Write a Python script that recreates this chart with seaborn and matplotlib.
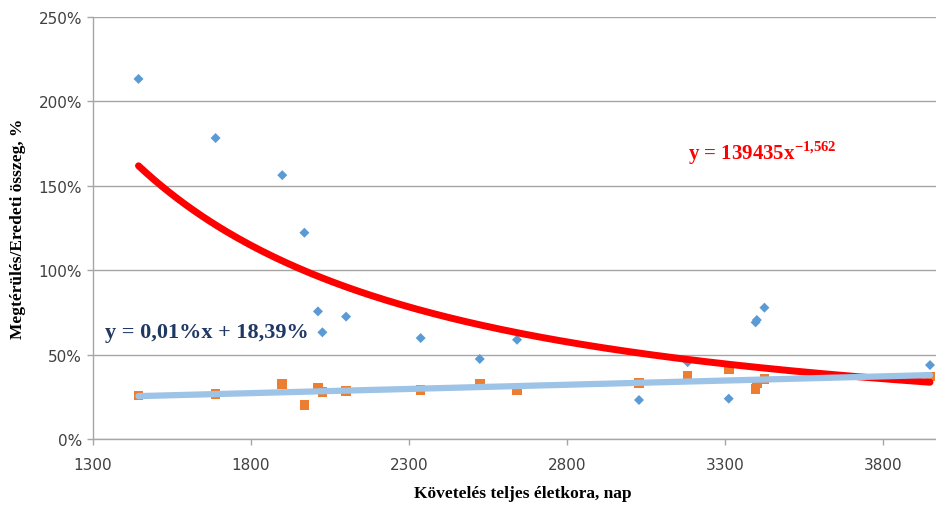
import numpy as np
import pandas as pd
import matplotlib
matplotlib.use("Agg")
import matplotlib.pyplot as plt
from matplotlib.ticker import PercentFormatter, MultipleLocator, FixedLocator
import seaborn as sns

# Claim age (days) and recovery ratios
days = [1444, 1688, 1899, 1969, 2012, 2026, 2101, 2337, 2524, 2642,
        3028, 3182, 3312, 3397, 3401, 3425, 3949]
recovery_a = [213.3, 178.3, 156.3, 122.2, 75.6, 63.2, 72.5, 59.8, 47.4, 58.8,
              23.1, 45.5, 23.9, 69.1, 70.5, 77.8, 43.8]
recovery_b = [25.7, 26.5, 32.6, 20.3, 30.6, 27.7, 28.6, 29.2, 32.6, 29.0,
              33.2, 37.5, 41.5, 29.6, 33.0, 35.5, 37.1]
x_ticks = [1300, 1800, 2300, 2800, 3300, 3800]

# Power trend coefficients shown on the chart
power_coef = 139435
power_exp = -1.562

power_label = r"y = 139435x$^{\mathbf{-1{,}562}}$"
linear_label = "y = 0,01%x + 18,39%"
x_title = "Követelés teljes életkora, nap"
y_title = "Megtérülés/Eredeti összeg, %"

df = pd.DataFrame({
    "days": days,
    "a": np.array(recovery_a) / 100,
    "b": np.array(recovery_b) / 100,
})

sns.set_theme(style="white")
plt.rcParams["font.family"] = ["DejaVu Sans"]
plt.rcParams["mathtext.fontset"] = "custom"
plt.rcParams["mathtext.rm"] = "Liberation Serif:bold"
plt.rcParams["mathtext.bf"] = "Liberation Serif:bold"

fig = plt.figure(figsize=(9.36, 5.06), dpi=100)
ax = fig.add_axes([93 / 936, 1 - 440 / 506, 1 - 93 / 936, (440 - 18) / 506])

grid_col = "#a6a6a6"
ax.yaxis.grid(True, color=grid_col, lw=1.0)
ax.set_axisbelow(True)

# scatter points
sns.scatterplot(data=df, x="days", y="a", marker="D", s=26, color="#5b9bd5",
                edgecolor="none", ax=ax, zorder=3)
sns.scatterplot(data=df, x="days", y="b", marker="s", s=48, color="#ed7d31",
                edgecolor="none", ax=ax, zorder=3)

# power trend line
xs = np.linspace(df["days"].min(), df["days"].max(), 200)
trend = pd.DataFrame({"x": xs, "y": power_coef * xs ** power_exp})
sns.lineplot(data=trend, x="x", y="y", color="#ff0000", lw=5, ax=ax, zorder=4)

# linear trend line fitted on second series
sns.regplot(data=df, x="days", y="b", scatter=False, ci=None, truncate=True,
            line_kws={"color": "#9dc3e6", "lw": 4.5, "zorder": 5}, ax=ax)

ax.text(3183, 1.70, power_label, color="#ff0000", fontsize=15,
        family="Liberation Serif", fontweight="bold", ha="left", va="center")
ax.text(1338, 0.634, linear_label, color="#1f3864", fontsize=16,
        family="Liberation Serif", fontweight="bold", ha="left", va="center")

ax.set_xlim(1300, 3968)
ax.set_ylim(0, 2.5)
ax.xaxis.set_major_locator(FixedLocator(x_ticks))
ax.yaxis.set_major_locator(MultipleLocator(0.5))
ax.yaxis.set_major_formatter(PercentFormatter(1.0, decimals=0))

for side in ["top", "right"]:
    ax.spines[side].set_visible(False)
for side in ["left", "bottom"]:
    ax.spines[side].set_color(grid_col)
    ax.spines[side].set_linewidth(1.0)

ax.tick_params(axis="both", which="major", direction="out", length=4,
               color=grid_col, width=1.0, labelsize=11, labelcolor="#404040")
ax.tick_params(axis="x", pad=9)
ax.tick_params(axis="y", pad=4)
ax.xaxis.set_ticks_position("bottom")
ax.yaxis.set_ticks_position("left")

ax.set_xlabel(x_title, family="Liberation Serif", fontweight="bold",
              fontsize=12.5, color="black")
ax.set_ylabel(y_title, family="Liberation Serif", fontweight="bold",
              fontsize=12.5, color="black")
ax.xaxis.set_label_coords(0.51, -0.108)
ax.yaxis.set_label_coords(-0.079, 0.5)

fig.savefig("out.png", dpi=100)
